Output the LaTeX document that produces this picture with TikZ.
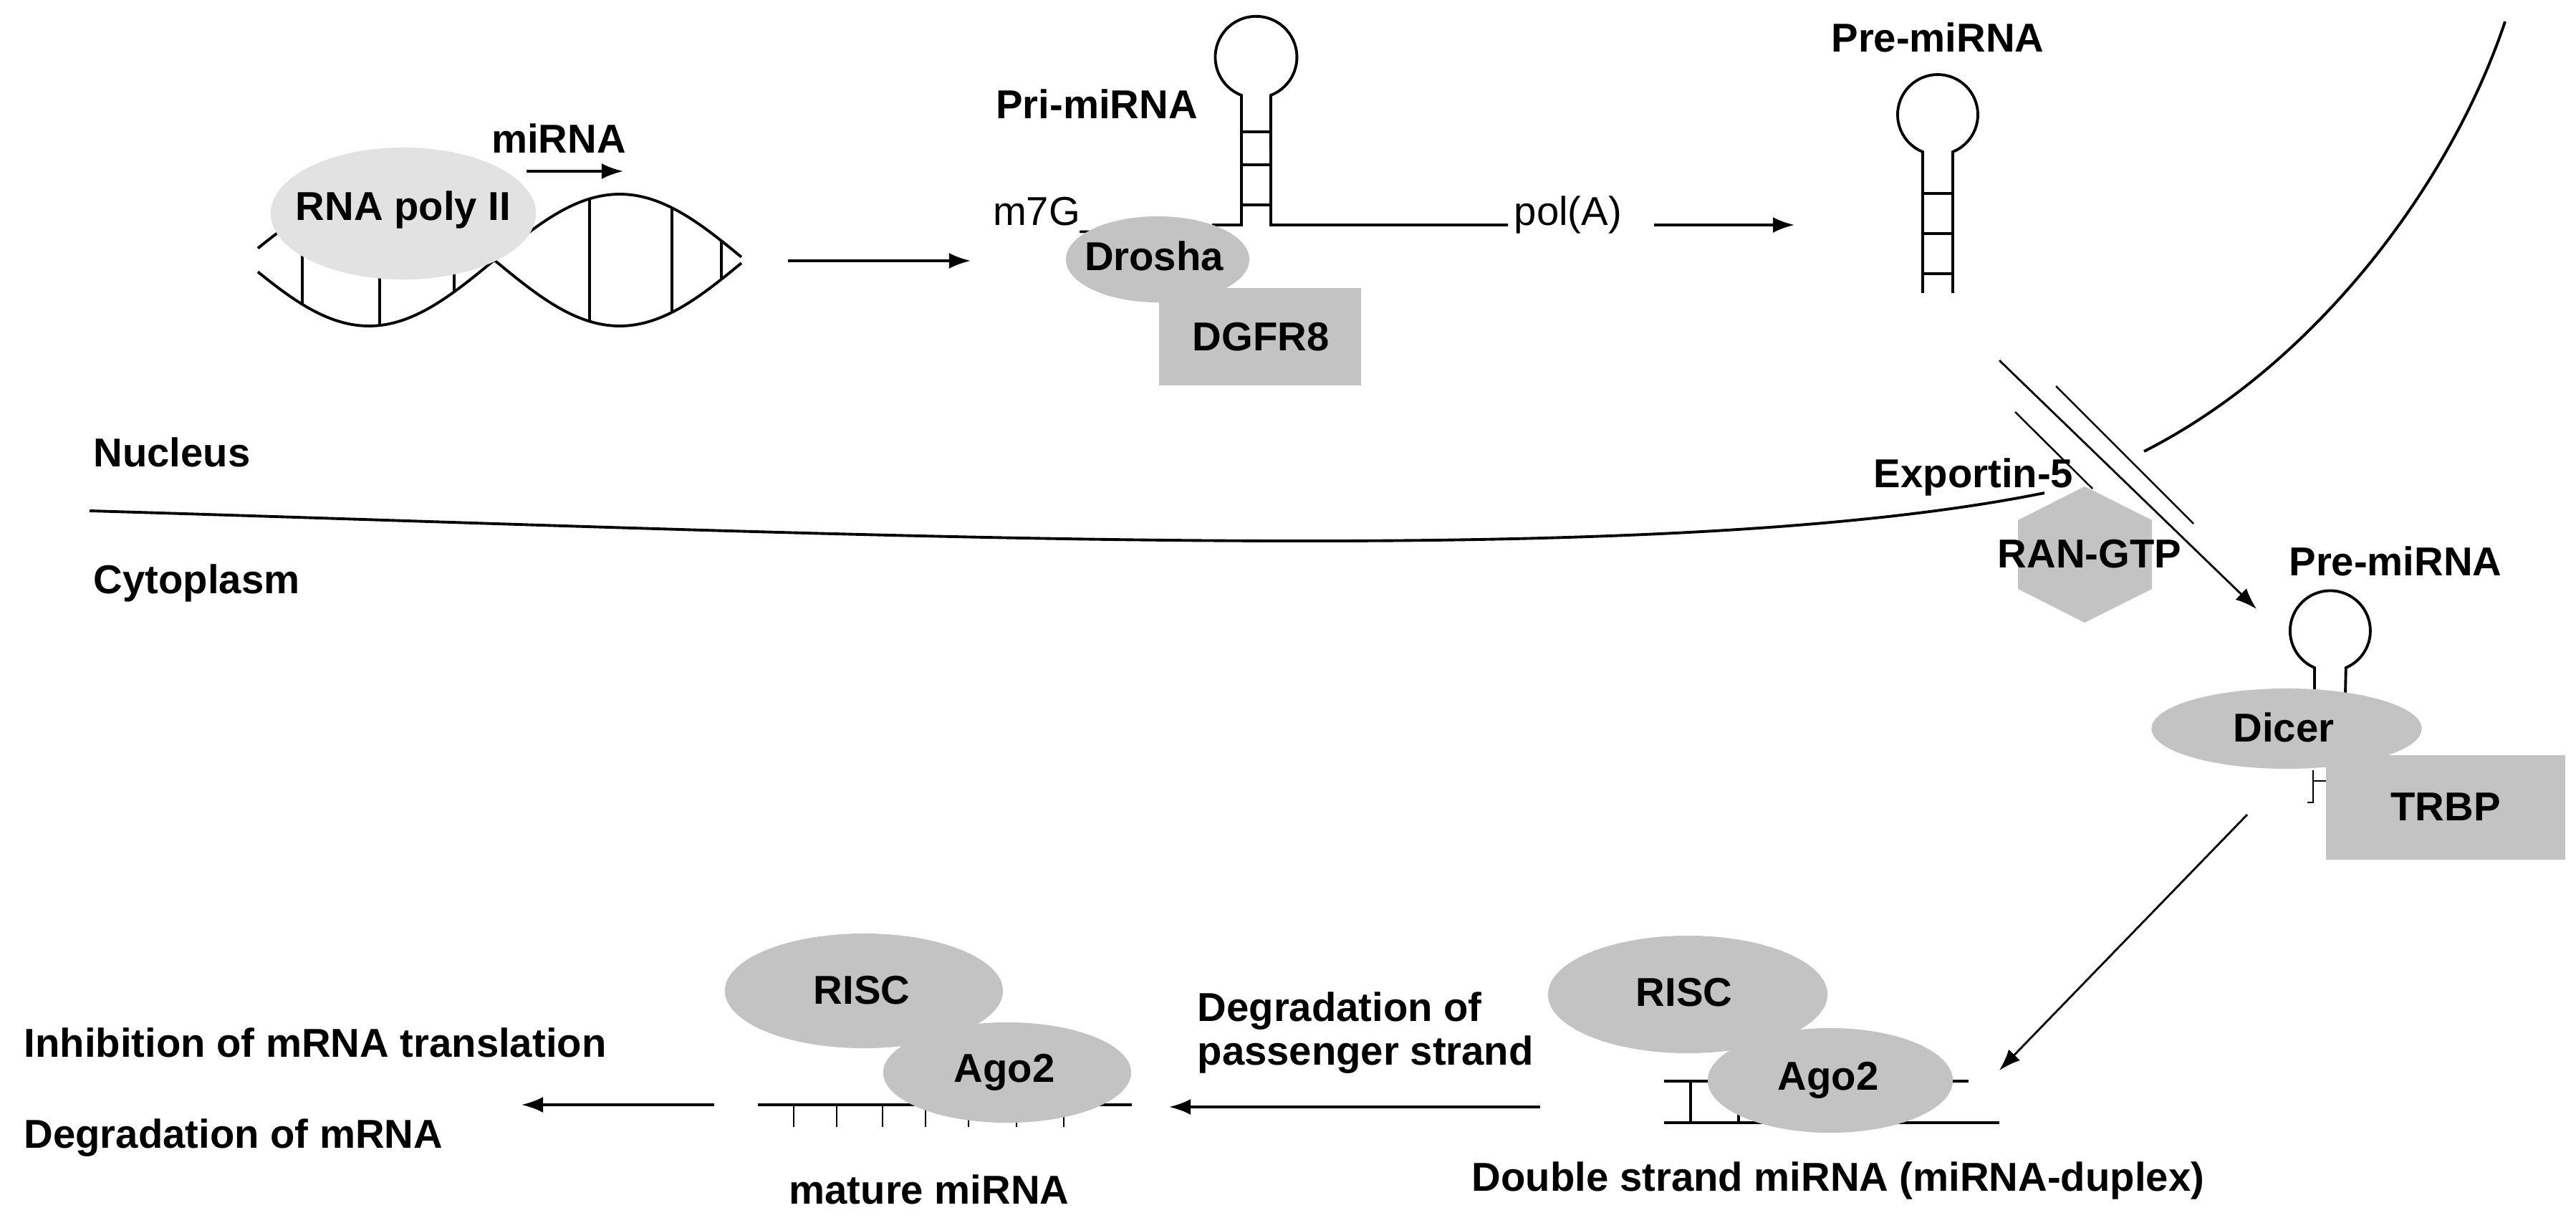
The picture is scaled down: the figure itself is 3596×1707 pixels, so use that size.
\documentclass[tikz,border=0pt]{standalone}
\usepackage{fontspec}
\setmainfont{Liberation Sans}
\usetikzlibrary{arrows.meta,shapes.geometric}
\definecolor{boxgray}{HTML}{C3C3C3}
\definecolor{polgray}{HTML}{E2E2E2}
\begin{document}
\begin{tikzpicture}[x=0.01cm,y=-0.01cm,
  lbl/.style={font=\fontsize{16}{18}\selectfont\bfseries,inner sep=0pt},
  reg/.style={font=\fontsize{16}{18}\selectfont,inner sep=0pt},
  blob/.style={ellipse,fill=boxgray,inner sep=0pt},
  box/.style={rectangle,fill=boxgray,inner sep=0pt},
  strand/.style={line width=1.1pt},
  thin/.style={line width=0.7pt},
  arr/.style={line width=1.1pt,-{Latex[length=0.3cm,width=0.22cm]}},
  tarr/.style={line width=0.8pt,-{Latex[length=0.3cm,width=0.22cm]}}]
\useasboundingbox (0,0) rectangle (3596,1707);
\fill[white] (0,0) rectangle (3596,1707);

% DNA helix
\draw[strand] plot[domain=360:1035,samples=120] (\x,{363+92*sin((\x-340)*0.5142857)});
\draw[strand] plot[domain=360:1035,samples=120] (\x,{363-92*sin((\x-340)*0.5142857)});
\foreach \r in {422,530,634,823,938,1007}
  \draw[strand] (\r,{363+92*sin((\r-340)*0.5142857)}) -- (\r,{363-92*sin((\r-340)*0.5142857)});
\node[ellipse,fill=polgray,minimum width=3.7cm,minimum height=1.84cm,inner sep=0pt] (pol) at (563,298) {};
\node[lbl] (poltxt) at (563,293) {RNA poly II};
\node[lbl] (mirna) at (780,193) {miRNA};
\coordinate (ma1) at (735,239); \coordinate (ma2) at (870,239);
\draw[arr] (ma1) -- (ma2);

% arrow 1
\coordinate (a1s) at (1100,364); \coordinate (a1e) at (1355,364);
\draw[arr] (a1s) -- (a1e);

% Pri-miRNA
\node[lbl] (pri) at (1531,145) {Pri-miRNA};
\draw[strand] (1692,314) -- (1733,314) -- (1733,133)
  arc[start angle=111,end angle=429,radius=57] -- (1774,314) -- (2105,314);
\foreach \yy in {184,230,286} \draw[strand] (1733,\yy) -- (1774,\yy);
\node[reg,anchor=east] (m7g) at (1540,300) {m7G\_};
\node[reg,anchor=west] (pola) at (2113,300) {pol(A)};
\node[blob,minimum width=2.56cm,minimum height=1.2cm] (drosha) at (1616,362) {};
\node[lbl] at (1611,357) {Drosha};
\node[box,minimum width=2.82cm,minimum height=1.35cm] (dgfr) at (1759,470) {};
\node[lbl] at (1760,470) {DGFR8};

% arrow 2
\coordinate (a2s) at (2309,314); \coordinate (a2e) at (2505,314);
\draw[arr] (a2s) -- (a2e);

% Pre-miRNA nucleus
\node[lbl] (pre1) at (2705,52) {Pre-miRNA};
\draw[strand] (2684,409) -- (2684,212) arc[start angle=112,end angle=428,radius=56] -- (2726,409);
\foreach \yy in {270,326,382} \draw[strand] (2684,\yy) -- (2726,\yy);

% membranes
\draw[strand] (125,713) .. controls (1200,745) and (2300,800) .. (2854,688);
\draw[strand] (2993,630) .. controls (3230,510) and (3420,260) .. (3497,30);
\node[lbl,anchor=west] (nuc) at (130,631) {Nucleus};
\node[lbl,anchor=west] (cyto) at (130,814) {Cytoplasm};

% Exportin / RAN-GTP
\fill[boxgray] (2910,679) -- (3004,726) -- (3004,822) -- (2910,869) -- (2817,822) -- (2817,726) -- cycle;
\node[lbl] (ran) at (2917,773) {RAN-GTP};
\node[lbl] (exp) at (2755,666) {Exportin-5};
\coordinate (c1) at (2870,539); \coordinate (c2) at (3062,731);
\coordinate (c3) at (2813,575); \coordinate (c4) at (2921,682);
\coordinate (x1) at (2791,503); \coordinate (x2) at (3150,850);
\draw[thin] (c1) -- (c2);
\draw[thin] (c3) -- (c4);
\draw[tarr] (x1) -- (x2);

% Pre-miRNA cytoplasm + Dicer
\node[lbl] (pre2) at (3344,783) {Pre-miRNA};
\draw[strand] (3231,968) -- (3231,932) arc[start angle=113,end angle=427,radius=56] -- (3274,968);
\node[blob,minimum width=3.77cm,minimum height=1.12cm] (dicer) at (3192,1017) {};
\node[lbl] at (3188,1015) {Dicer};
\draw[thin] (3229,1075) -- (3229,1120) -- (3221,1120);
\draw[thin] (3229,1090) -- (3247,1090);
\node[box,minimum width=3.34cm,minimum height=1.46cm] (trbp) at (3414,1127) {};
\node[lbl] at (3414,1126) {TRBP};

% arrow to duplex
\coordinate (d1) at (3137,1137); \coordinate (d2) at (2791,1494);
\draw[tarr] (d1) -- (d2);

% duplex
\draw[strand] (2323,1509) -- (2748,1509);
\draw[strand] (2323,1567) -- (2791,1567);
\foreach \xx in {2360,2427} \draw[strand] (\xx,1509) -- (\xx,1567);
\node[blob,minimum width=3.9cm,minimum height=1.64cm] (risc2) at (2356,1388) {};
\node[lbl] at (2351,1385) {RISC};
\node[blob,minimum width=3.42cm,minimum height=1.46cm] (ago2b) at (2555,1508) {};
\node[lbl] at (2552,1508) {Ago2};
\node[lbl] (dsl) at (2566,1648) {Double strand miRNA (miRNA-duplex)};

% arrow degradation passenger
\coordinate (p1) at (2150,1545); \coordinate (p2) at (1632,1545);
\draw[arr] (p1) -- (p2);
\node[lbl,anchor=west] (deg1) at (1671,1411) {Degradation of};
\node[lbl,anchor=west] (deg2) at (1671,1472) {passenger strand};

% mature miRNA
\draw[strand] (1058,1542) -- (1580,1542);
\foreach \xx in {1108,1168,1232,1292,1352,1419,1485} \draw[thin] (\xx,1542) -- (\xx,1573);
\node[blob,minimum width=3.88cm,minimum height=1.6cm] (risc1) at (1206,1383) {};
\node[lbl] at (1203,1382) {RISC};
\node[blob,minimum width=3.46cm,minimum height=1.4cm] (ago2a) at (1406,1497) {};
\node[lbl] at (1402,1497) {Ago2};
\node[lbl] (mat) at (1297,1660) {mature miRNA};

% final arrow
\coordinate (f1) at (997,1542); \coordinate (f2) at (728,1542);
\draw[arr] (f1) -- (f2);
\node[lbl,anchor=west] (inh) at (33,1455) {Inhibition of mRNA translation};
\node[lbl,anchor=west] (degm) at (33,1588) {Degradation of mRNA};
\end{tikzpicture}
\end{document}
